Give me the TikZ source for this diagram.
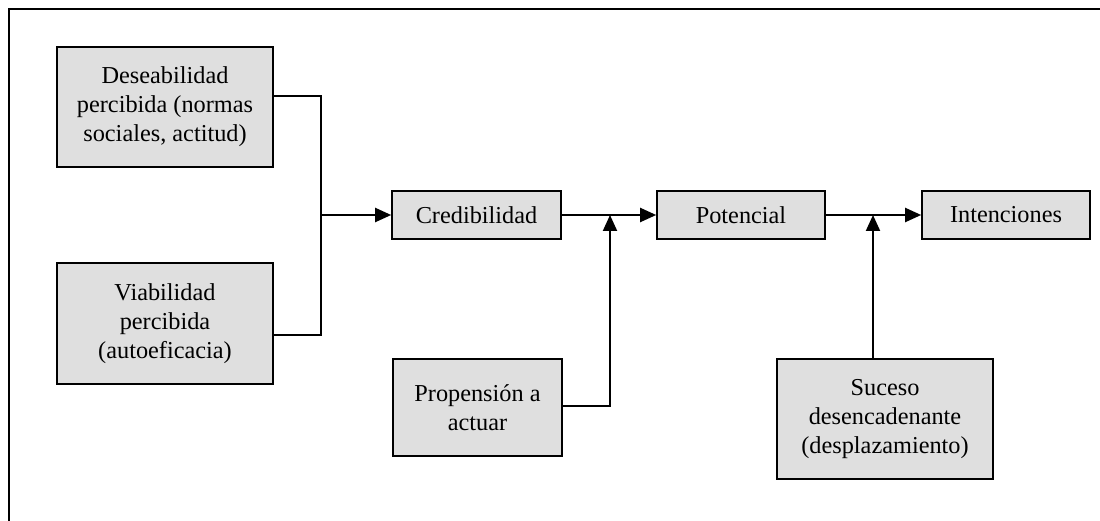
\documentclass[tikz,border=0pt]{standalone}
\usepackage{fontspec}
\setmainfont{Liberation Serif}
\usetikzlibrary{arrows.meta}
\begin{document}
\begin{tikzpicture}[x=1pt,y=-1pt,
  box/.style={draw=black, line width=1.6pt, fill=gray!25, inner sep=0pt,
    align=center, font=\fontsize{24.3}{29}\selectfont},
  link/.style={line width=2pt},
  arr/.style={line width=2pt, -{Triangle[length=16pt,width=14pt]}}]
\useasboundingbox (0,0) rectangle (1100,521);
% outer frame (top and left edges only)
\draw[line width=1.6pt] (9,521) -- (9,9) -- (1100,9);

% boxes
\node[box, minimum width=216pt, minimum height=120pt] (des) at (165,107)
  {Deseabilidad\\percibida (normas\\sociales, actitud)};
\node[box, minimum width=216pt, minimum height=121pt] (via) at (165,323.5)
  {Viabilidad\\percibida\\(autoeficacia)};
\node[box, minimum width=169pt, minimum height=48pt] (cred) at (476.5,215)
  {Credibilidad};
\node[box, minimum width=168pt, minimum height=48pt] (pot) at (741,215)
  {Potencial};
\node[box, minimum width=168pt, minimum height=48pt] (int) at (1006,215)
  {Intenciones};
\node[box, minimum width=169pt, minimum height=97pt] (prop) at (477.5,407.5)
  {Propensión a\\actuar};
\node[box, minimum width=216pt, minimum height=120pt] (suc) at (885,419)
  {Suceso\\desencadenante\\(desplazamiento)};

% junctions
\coordinate (j1) at (321,215);
\coordinate (j2) at (610,215);
\coordinate (j3) at (873,215);

% connectors
\draw[link] ([yshift=11pt]des.east) -| (j1);
\draw[link] ([yshift=-11.5pt]via.east) -| (j1);
\draw[arr] (j1) -- (cred.west);
\draw[arr] (cred.east) -- (pot.west);
\draw[arr] ([yshift=1.5pt]prop.east) -| (j2);
\draw[arr] (pot.east) -- (int.west);
\draw[arr] (j3 |- suc.north) -- (j3);
\end{tikzpicture}
\end{document}
